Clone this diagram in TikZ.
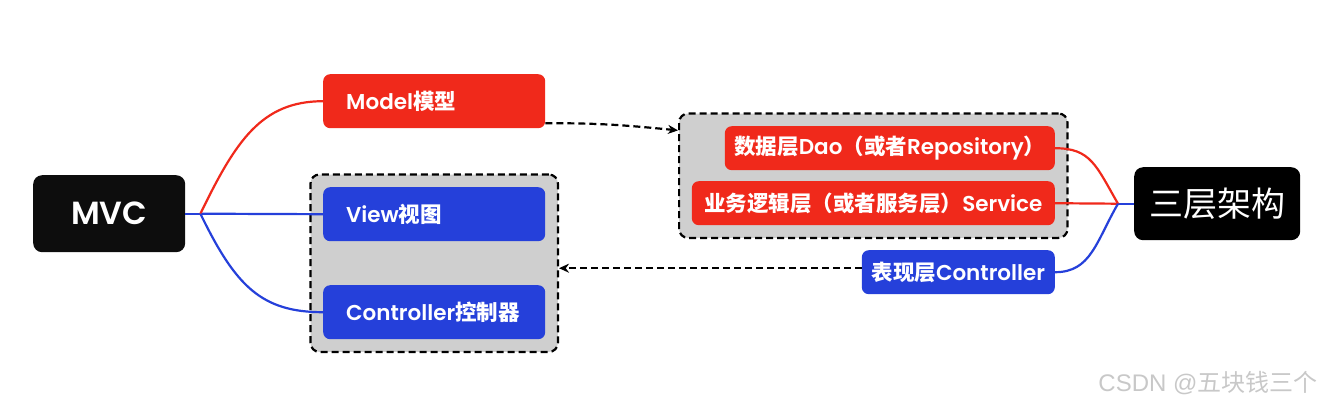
\documentclass[tikz,border=0pt]{standalone}
\usepackage{fontspec}
\setmainfont{Poppins}[BoldFont={Poppins SemiBold}]
\newfontfamily\cjk{Noto Sans CJK SC}
\newfontfamily\cjkplain{Noto Sans CJK SC}
\newfontfamily\wmsans{Liberation Sans}
\newcommand\zh[1]{{\cjk #1}}
\usetikzlibrary{arrows.meta,fit,calc,backgrounds}

\definecolor{mred}{HTML}{F0291B}
\definecolor{mblue}{HTML}{2540DA}
\definecolor{mblack}{HTML}{0D0D0D}
\definecolor{grpgray}{HTML}{CFCFCF}
\definecolor{wmgray}{HTML}{C8C8C8}

\tikzset{
  box/.style={rounded corners=7pt, text=white, inner ysep=0pt,
    font=\bfseries\fontsize{21.5}{25}\selectfont},
  leftbox/.style={box, anchor=north west, minimum height=54pt,
    inner xsep=23pt, text width=176pt, align=left},
  rightbox/.style={box, anchor=north east, minimum height=44pt, inner xsep=0pt},
  headbox/.style={rounded corners=9pt, text=white, anchor=north west, inner sep=0pt},
  groupbox/.style={draw=black, line width=2.2pt, dash pattern=on 7pt off 4pt,
    fill=grpgray, rounded corners=9pt},
  conn/.style={line width=2.2pt},
  dasharrow/.style={draw=black, line width=2.2pt, dash pattern=on 7pt off 4pt,
    -{Stealth[length=10pt,width=9pt]}}
}

\begin{document}
\begin{tikzpicture}[x=1pt,y=-1pt]
\useasboundingbox (0,0) rectangle (1324,405);

% MVC side
\node[headbox, fill=mblack, minimum width=152pt, minimum height=77pt,
      font=\bfseries\fontsize{32}{36}\selectfont] (mvc) at (33,175) {MVC};
\node[leftbox, fill=mred]  (model) at (323,74)  {Model\zh{模型}};
\node[leftbox, fill=mblue] (view)  at (323,187) {View\zh{视图}};
\node[leftbox, fill=mblue] (ctrl)  at (323,285) {Controller\zh{控制器}};

% three-tier side
\node[headbox, fill=black, minimum width=166pt, minimum height=73pt,
      font=\cjkplain\fontsize{34}{38}\selectfont] (three) at (1134,167) {三层架构};
\node[rightbox, fill=mred, minimum width=330pt] (dao) at (1055,126)
  {\zh{数据层}Dao\zh{（或者}Repository\zh{）}};
\node[rightbox, fill=mred, minimum width=363pt] (svc) at (1055,181)
  {\zh{业务逻辑层（或者服务层）}Service};
\node[rightbox, fill=mblue, minimum width=193pt] (pres) at (1055,250)
  {\zh{表现层}Controller};

% dashed groups
\begin{pgfonlayer}{background}
  \node[groupbox, inner sep=12.5pt, fit=(view)(ctrl)] (lgroup) {};
  \node[groupbox, inner sep=12.5pt, fit=(dao)(svc)] (rgroup) {};
\end{pgfonlayer}

% MVC branches
\coordinate (mj) at ($(mvc.east)+(15,0)$);
\draw[conn, mblue] (mvc.east) -- (mj);
\draw[conn, mblue] (mj) -- (view.west);
\draw[conn, mred] (mj) .. controls +(35,-72) and +(-62,0) .. (model.west);
\draw[conn, mblue] (mj) .. controls +(35,72) and +(-62,0) .. (ctrl.west);

% three-tier branches
\coordinate (tj) at ($(three.west)+(-16,0)$);
\draw[conn, mblue] (three.west) -- (tj);
\draw[conn, mred] (tj) -- (svc.east);
\draw[conn, mred] (tj) .. controls +(-22,-38) and +(36,0) .. (dao.east);
\draw[conn, mblue] (tj) .. controls +(-22,38) and +(36,0) .. (pres.east);

% correspondences between the two architectures
\coordinate (ms) at ($(model.east)+(0,22)$);
\coordinate (rt) at ($(rgroup.north west)+(0,18)$);
\draw[dasharrow] (ms) .. controls +(50,0) and +(-60,-6) .. (rt);
\coordinate (ps) at ($(pres.west)+(0,-4)$);
\draw[dasharrow] (ps) -- (ps -| lgroup.east);

% watermark
\node[text=wmgray, anchor=base east, font=\fontsize{24}{27}\selectfont] (wm)
  at (1321,391) {{\wmsans CSDN @}{\cjkplain 五块钱三个}};
\end{tikzpicture}
\end{document}
